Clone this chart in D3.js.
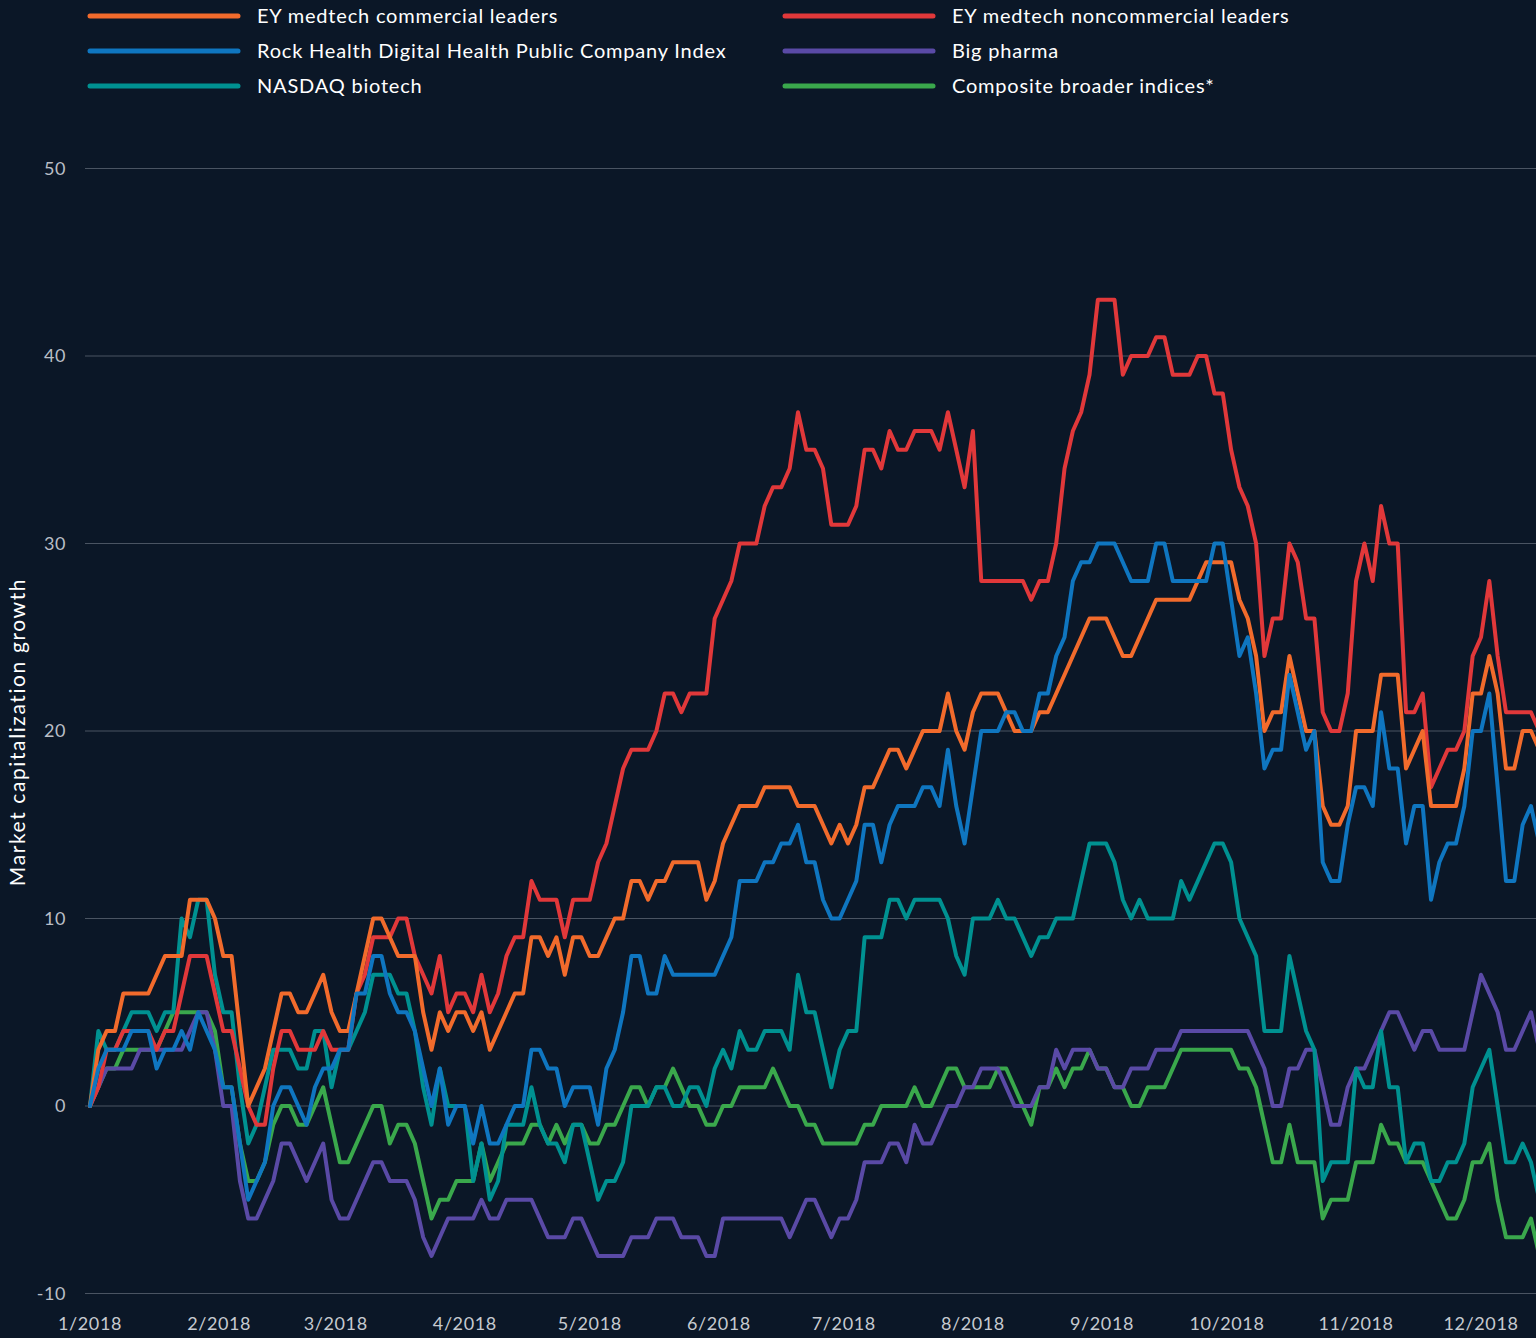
<!DOCTYPE html>
<html lang="en">
<head>
<meta charset="UTF-8">
<title>Market capitalization growth</title>
<script src="https://d3js.org/d3.v7.min.js"></script>
<style>
	body{margin:0;background:#0b1727;}
	svg text{font-family:Lato,"Noto Sans",sans-serif;}
	.grid line{stroke:#4a5462;stroke-width:1px;}
	.series{fill:none;stroke-width:4px;stroke-linejoin:round;stroke-linecap:round;}
</style>
</head>
<body>
<script>
// one point every two days from 1 Jan 2018
var startDate = new Date(2018, 0, 1);
var monthTicks = ["1/2018","2/2018","3/2018","4/2018","5/2018","6/2018","7/2018","8/2018","9/2018","10/2018","11/2018","12/2018"];
var yTicks = [-10, 0, 10, 20, 30, 40, 50];

var commercial = [0,3,4,4,6,6,6,6,7,8,8,8,11,11,11,10,8,8,4,0,1,2,4,6,6,5,5,6,
	7,5,4,4,6,8,10,10,9,8,8,8,5,3,5,4,5,5,4,5,3,4,5,6,6,9,9,8,9,
	7,9,9,8,8,9,10,10,12,12,11,12,12,13,13,13,13,11,12,14,15,16,16,16,17,17,17,17,
	16,16,16,15,14,15,14,15,17,17,18,19,19,18,19,20,20,20,22,20,19,21,22,22,22,21,20,20,
	20,21,21,22,23,24,25,26,26,26,25,24,24,25,26,27,27,27,27,27,28,29,29,29,29,27,26,24,
	20,21,21,24,22,20,20,16,15,15,16,20,20,20,23,23,23,18,19,20,16,16,16,16,18,22,22,24,22,18,18,20,20,19];

var noncommercial = [0,1,3,3,4,4,4,4,3,4,4,6,8,8,8,6,4,4,2,0,-1,-1,2,4,4,3,3,3,
	4,3,3,3,6,7,9,9,9,10,10,8,7,6,8,5,6,6,5,7,5,6,8,9,9,12,11,11,11,
	9,11,11,11,13,14,16,18,19,19,19,20,22,22,21,22,22,22,26,27,28,30,30,30,32,33,33,34,
	37,35,35,34,31,31,31,32,35,35,34,36,35,35,36,36,36,35,37,35,33,36,28,28,28,28,28,28,
	27,28,28,30,34,36,37,39,43,43,43,39,40,40,40,41,41,39,39,39,40,40,38,38,35,33,32,30,
	24,26,26,30,29,26,26,21,20,20,22,28,30,28,32,30,30,21,21,22,17,18,19,19,20,24,25,28,24,21,21,21,21,20];

var rockHealth = [0,2,3,3,3,4,4,4,2,3,3,4,3,5,4,3,1,1,-2,-5,-4,-3,0,1,1,0,-1,1,
	2,2,3,3,6,6,8,8,6,5,5,4,2,0,2,-1,0,0,-2,0,-2,-2,-1,0,0,3,3,2,2,
	0,1,1,1,-1,2,3,5,8,8,6,6,8,7,7,7,7,7,7,8,9,12,12,12,13,13,14,14,
	15,13,13,11,10,10,11,12,15,15,13,15,16,16,16,17,17,16,19,16,14,17,20,20,20,21,21,20,
	20,22,22,24,25,28,29,29,30,30,30,29,28,28,28,30,30,28,28,28,28,28,30,30,27,24,25,22,
	18,19,19,23,21,19,20,13,12,12,15,17,17,16,21,18,18,14,16,16,11,13,14,14,16,20,20,22,17,12,12,15,16,14];

var bigPharma = [0,1,2,2,2,2,3,3,3,3,3,3,4,5,5,3,0,0,-4,-6,-6,-5,-4,-2,-2,-3,-4,-3,
	-2,-5,-6,-6,-5,-4,-3,-3,-4,-4,-4,-5,-7,-8,-7,-6,-6,-6,-6,-5,-6,-6,-5,-5,-5,-5,-6,-7,-7,
	-7,-6,-6,-7,-8,-8,-8,-8,-7,-7,-7,-6,-6,-6,-7,-7,-7,-8,-8,-6,-6,-6,-6,-6,-6,-6,-6,-7,
	-6,-5,-5,-6,-7,-6,-6,-5,-3,-3,-3,-2,-2,-3,-1,-2,-2,-1,0,0,1,1,2,2,2,1,0,0,
	0,1,1,3,2,3,3,3,2,2,1,1,2,2,2,3,3,3,4,4,4,4,4,4,4,4,4,3,
	2,0,0,2,2,3,3,1,-1,-1,1,2,2,3,4,5,5,4,3,4,4,3,3,3,3,5,7,6,5,3,3,4,5,3];

var nasdaqBiotech = [0,4,3,3,4,5,5,5,4,5,5,10,9,11,11,7,5,5,1,-2,-1,1,3,3,3,2,2,4,
	4,1,3,3,4,5,7,7,7,6,6,4,1,-1,2,0,0,0,-4,-2,-5,-4,-1,-1,-1,1,-1,-2,-2,
	-3,-1,-1,-3,-5,-4,-4,-3,0,0,0,1,1,0,0,1,1,0,2,3,2,4,3,3,4,4,4,3,
	7,5,5,3,1,3,4,4,9,9,9,11,11,10,11,11,11,11,10,8,7,10,10,10,11,10,10,9,
	8,9,9,10,10,10,12,14,14,14,13,11,10,11,10,10,10,10,12,11,12,13,14,14,13,10,9,8,
	4,4,4,8,6,4,3,-4,-3,-3,-3,2,1,1,4,1,1,-3,-2,-2,-4,-4,-3,-3,-2,1,2,3,0,-3,-3,-2,-3,-5];

var composite = [0,1,2,2,3,3,3,3,3,4,5,5,5,5,5,4,1,1,-2,-4,-4,-3,-1,0,0,-1,-1,0,
	1,-1,-3,-3,-2,-1,0,0,-2,-1,-1,-2,-4,-6,-5,-5,-4,-4,-4,-2,-4,-3,-2,-2,-2,-1,-1,-2,-1,
	-2,-1,-1,-2,-2,-1,-1,0,1,1,0,1,1,2,1,0,0,-1,-1,0,0,1,1,1,1,2,1,0,
	0,-1,-1,-2,-2,-2,-2,-2,-1,-1,0,0,0,0,1,0,0,1,2,2,1,1,1,1,2,2,1,0,
	-1,1,1,2,1,2,2,3,2,2,1,1,0,0,1,1,1,2,3,3,3,3,3,3,3,2,2,1,
	-1,-3,-3,-1,-3,-3,-3,-6,-5,-5,-5,-3,-3,-3,-1,-2,-2,-3,-3,-3,-4,-5,-6,-6,-5,-3,-3,-2,-5,-7,-7,-7,-6,-8];

var series = [
	{name:"EY medtech commercial leaders", color:"#f26b2c", values:commercial, col:0, row:0},
	{name:"Rock Health Digital Health Public Company Index", color:"#0f76c0", values:rockHealth, col:0, row:1},
	{name:"NASDAQ biotech", color:"#009191", values:nasdaqBiotech, col:0, row:2},
	{name:"EY medtech noncommercial leaders", color:"#e1383a", values:noncommercial, col:1, row:0},
	{name:"Big pharma", color:"#5a4aa6", values:bigPharma, col:1, row:1},
	{name:"Composite broader indices*", color:"#3aa84c", values:composite, col:1, row:2}
];
// bottom to top
var drawOrder = ["Composite broader indices*","Big pharma","NASDAQ biotech","EY medtech noncommercial leaders","EY medtech commercial leaders","Rock Health Digital Health Public Company Index"];

var width = 1536, height = 1338;
var svg = d3.select("body").append("svg")
	.attr("width", width)
	.attr("height", height);

var x = d3.scaleTime()
	.domain([new Date(2018,0,1), new Date(2018,11,1)])
	.range([90, 1481]);
var y = d3.scaleLinear()
	.domain([-10, 50])
	.range([1293.5, 168.5]);

// grid
svg.append("g").attr("class","grid")
	.selectAll("line").data(yTicks).enter().append("line")
	.attr("x1", 85).attr("x2", width)
	.attr("y1", function(d){return y(d);})
	.attr("y2", function(d){return y(d);});

svg.append("g").selectAll("text").data(yTicks).enter().append("text")
	.attr("x", 66).attr("y", function(d){return y(d);})
	.attr("dy","0.35em").attr("text-anchor","end")
	.attr("fill","#b9bec6").style("font-size","18px").style("letter-spacing","0.6px")
	.text(function(d){return d;});

var monthDates = monthTicks.map(function(t, i){return new Date(2018, i, 1);});
svg.append("g").selectAll("text").data(monthTicks).enter().append("text")
	.attr("x", function(d, i){return x(monthDates[i]);})
	.attr("y", 1324).attr("dy","0.35em").attr("text-anchor","middle")
	.attr("fill","#c6cad0").style("font-size","18px").style("letter-spacing","0.6px")
	.text(function(d){return d;});

svg.append("text")
	.attr("transform","translate(25,732) rotate(-90)")
	.attr("text-anchor","middle")
	.attr("fill","#ffffff").style("font-size","21px").style("letter-spacing","1.6px")
	.text("Market capitalization growth");

var line = d3.line()
	.x(function(d, i){return x(d3.timeDay.offset(startDate, 2 * i));})
	.y(function(d){return y(d);});

var byName = {};
series.forEach(function(s){byName[s.name] = s;});

svg.append("g").selectAll("path").data(drawOrder.map(function(n){return byName[n];}))
	.enter().append("path")
	.attr("class","series")
	.attr("stroke", function(d){return d.color;})
	.attr("d", function(d){return line(d.values);});

// legend
var legend = svg.append("g").selectAll("g").data(series).enter().append("g")
	.attr("transform", function(d){return "translate(" + (d.col ? 783 : 88) + "," + (16 + d.row * 35) + ")";});
legend.append("line")
	.attr("x1", 2).attr("x2", 150)
	.attr("stroke", function(d){return d.color;})
	.attr("stroke-width", 5).attr("stroke-linecap","round");
legend.append("text")
	.attr("x", 169).attr("dy","0.35em")
	.attr("fill","#ffffff").style("font-size","20px").style("letter-spacing","0.8px")
	.text(function(d){return d.name;});
</script>
</body>
</html>
